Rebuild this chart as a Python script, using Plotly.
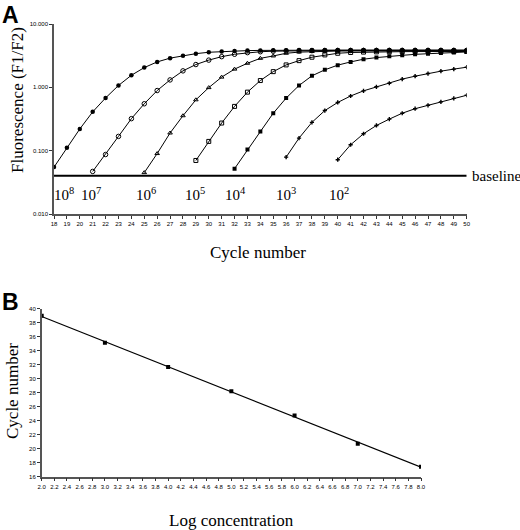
import numpy as np
import plotly.graph_objects as go

# ---------- Panel A data ----------
cycles_1 = list(range(18, 51))
fluor_1 = [0.055, 0.111, 0.22, 0.41, 0.68, 1.07, 1.55, 2.05, 2.52, 2.89, 3.16, 3.4, 3.58, 3.67, 3.76,
           3.8, 3.83, 3.85, 3.86, 3.87, 3.87, 3.88, 3.88, 3.88, 3.88, 3.88, 3.88, 3.88, 3.88, 3.88, 3.88, 3.88, 3.88]
cycles_2 = list(range(21, 51))
fluor_2 = [0.047, 0.087, 0.168, 0.32, 0.55, 0.89, 1.31, 1.82, 2.29, 2.69, 3.05, 3.33, 3.53, 3.65, 3.72,
           3.76, 3.78, 3.8, 3.81, 3.82, 3.82, 3.83, 3.83, 3.83, 3.83, 3.83, 3.83, 3.83, 3.83, 3.83]
cycles_3 = list(range(25, 51))
fluor_3 = [0.045, 0.090, 0.19, 0.356, 0.635, 0.99, 1.45, 1.94, 2.4, 2.87, 3.13, 3.45, 3.6, 3.68, 3.72,
           3.74, 3.75, 3.76, 3.76, 3.77, 3.77, 3.77, 3.77, 3.77, 3.77, 3.77]
cycles_4 = list(range(29, 51))
fluor_4 = [0.070, 0.14, 0.273, 0.50, 0.84, 1.28, 1.77, 2.26, 2.64, 2.99, 3.25, 3.45, 3.55, 3.6, 3.63,
           3.65, 3.66, 3.67, 3.67, 3.68, 3.68, 3.68]
cycles_5 = list(range(32, 51))
fluor_5 = [0.052, 0.104, 0.20, 0.39, 0.676, 1.07, 1.52, 1.89, 2.24, 2.52, 2.78, 2.95, 3.1, 3.2, 3.32,
           3.4, 3.47, 3.55, 3.62]
cycles_6 = list(range(36, 51))
fluor_6 = [0.079, 0.158, 0.28, 0.43, 0.577, 0.73, 0.88, 1.02, 1.16, 1.35, 1.5, 1.65, 1.8, 1.94, 2.08]
cycles_7 = list(range(40, 51))
fluor_7 = [0.072, 0.124, 0.185, 0.25, 0.315, 0.39, 0.46, 0.52, 0.59, 0.67, 0.75]

copy_labels = ["10<sup>8</sup>", "10<sup>7</sup>", "10<sup>6</sup>", "10<sup>5</sup>",
               "10<sup>4</sup>", "10<sup>3</sup>", "10<sup>2</sup>"]
label_cycles = [18.8, 20.9, 25.1, 28.9, 32.1, 36.0, 40.1]
label_level = 0.0205
baseline_value = 0.04

a_xticks = list(range(18, 51))
a_yticks = [0.01, 0.1, 1, 10]
a_yticklabels = ["0.010", "0.100", "1.000", "10.000"]

# ---------- Panel B data ----------
log_conc = [2.0, 3.0, 4.0, 5.0, 6.0, 7.0, 8.0]
ct_cycle = [39.0, 35.14, 31.67, 28.19, 24.76, 20.71, 17.43]
b_xticks = [round(2.0 + 0.2 * i, 1) for i in range(31)]
b_yticks = list(range(16, 41, 2))

serif = "Liberation Serif, Times New Roman, serif"
sans = "Liberation Sans, Arial, sans-serif"

W, H = 520, 530
def px(x):
    return x / W
def py(y):
    return 1 - y / H

fig = go.Figure()

series = [
    (cycles_1, fluor_1, dict(symbol="circle", size=4.5, color="black")),
    (cycles_2, fluor_2, dict(symbol="circle-open", size=4.5, color="black", line=dict(width=1))),
    (cycles_3, fluor_3, dict(symbol="triangle-up-open", size=4, color="black", line=dict(width=1))),
    (cycles_4, fluor_4, dict(symbol="square-open", size=4, color="black", line=dict(width=1))),
    (cycles_5, fluor_5, dict(symbol="square", size=4, color="black")),
    (cycles_6, fluor_6, dict(symbol="cross", size=3.5, color="black")),
    (cycles_7, fluor_7, dict(symbol="cross", size=3.5, color="black")),
]
for xs, ys, mk in series:
    fig.add_trace(go.Scatter(x=xs, y=ys, mode="lines+markers", line=dict(color="black", width=1),
                             marker=mk, xaxis="x", yaxis="y", showlegend=False))

# baseline
fig.add_trace(go.Scatter(x=[a_xticks[0], a_xticks[-1]], y=[baseline_value, baseline_value], mode="lines",
                         line=dict(color="black", width=2), xaxis="x", yaxis="y", showlegend=False))

# Panel B
fig.add_trace(go.Scatter(x=log_conc, y=ct_cycle, mode="markers",
                         marker=dict(symbol="square", size=4, color="black"),
                         xaxis="x2", yaxis="y2", showlegend=False))
slope, intercept = np.polyfit(log_conc, ct_cycle, 1)
fit_x = [log_conc[0], log_conc[-1]]
fit_y = [slope * v + intercept for v in fit_x]
fig.add_trace(go.Scatter(x=fit_x, y=fit_y, mode="lines", line=dict(color="black", width=1.2),
                         xaxis="x2", yaxis="y2", showlegend=False))

tickfont = dict(family=sans, size=6, color="black")
axis_common = dict(showgrid=False, zeroline=False, showline=True, linecolor="#555555", linewidth=1.5,
                   ticks="outside", ticklen=3, tickcolor="#333333", tickwidth=1, tickfont=tickfont,
                   automargin=False)

title_font = dict(family=serif, size=17, color="black")
annotations = []
for lab, cx in zip(copy_labels, label_cycles):
    annotations.append(dict(x=cx, y=np.log10(label_level), xref="x", yref="y", text=lab, showarrow=False,
                            font=dict(family=serif, size=15, color="black"), xanchor="center", yanchor="middle"))
annotations.append(dict(x=px(470), y=py(176), xref="paper", yref="paper", text="baseline",
                        showarrow=False, font=dict(family=serif, size=15, color="black"),
                        xanchor="left", yanchor="middle"))
annotations += [
    dict(x=0.0, y=1.0, xref="paper", yref="paper", text="<b>A</b>", showarrow=False,
         font=dict(family=sans, size=23, color="black"), xanchor="left", yanchor="top"),
    dict(x=0.0, y=py(287), xref="paper", yref="paper", text="<b>B</b>", showarrow=False,
         font=dict(family=sans, size=23, color="black"), xanchor="left", yanchor="top"),
    dict(x=px(258), y=py(252), xref="paper", yref="paper", text="Cycle number", showarrow=False,
         font=title_font, xanchor="center", yanchor="middle"),
    dict(x=px(18), y=py(100), xref="paper", yref="paper", text="Fluorescence (F1/F2)", showarrow=False,
         font=title_font, xanchor="center", yanchor="middle", textangle=-90),
    dict(x=px(231), y=py(520), xref="paper", yref="paper", text="Log concentration", showarrow=False,
         font=title_font, xanchor="center", yanchor="middle"),
    dict(x=px(12), y=py(391), xref="paper", yref="paper", text="Cycle number", showarrow=False,
         font=title_font, xanchor="center", yanchor="middle", textangle=-90),
]

fig.update_layout(
    width=W, height=H,
    margin=dict(l=0, r=0, t=0, b=0),
    paper_bgcolor="white", plot_bgcolor="white",
    xaxis=dict(domain=[px(54), px(466.7)], range=[18, 50], tickvals=a_xticks, anchor="y", **axis_common),
    yaxis=dict(domain=[py(214), py(24)], type="log", range=[-2, 1], tickvals=a_yticks,
               ticktext=a_yticklabels, anchor="x", **axis_common),
    xaxis2=dict(domain=[px(41.7), px(421)], range=[2.0, 8.0], tickvals=b_xticks,
                ticktext=[f"{v:.1f}" for v in b_xticks], anchor="y2", **axis_common),
    yaxis2=dict(domain=[py(476.7), py(308.7)], range=[16, 40], tickvals=b_yticks, anchor="x2", **axis_common),
    annotations=annotations,
)

fig.write_html("out.html", config={"displayModeBar": False},
               post_script="document.body.style.margin='0';document.body.style.padding='0';"
                           "document.body.style.overflow='hidden';")
